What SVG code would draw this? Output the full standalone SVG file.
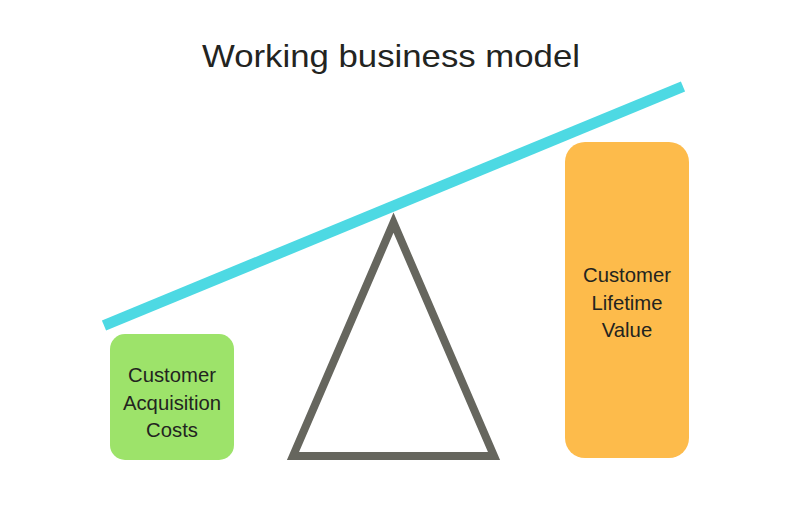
<svg xmlns="http://www.w3.org/2000/svg" width="791" height="509" viewBox="0 0 791 509">
<style>
.t{font-family:"Liberation Sans",Arial,sans-serif;fill:#23241f;text-anchor:middle}
.lbl{font-size:20.3px}
</style>
<rect width="791" height="509" fill="#ffffff"/>
<text class="t" x="391" y="67" font-size="32" textLength="378" lengthAdjust="spacingAndGlyphs">Working business model</text>
<g id="connectors">
<line x1="104" y1="325.5" x2="683" y2="86.5" stroke="#4dd9e3" stroke-width="11"/>
</g>
<g id="fulcrum">
<polygon points="393.5,222.7 293,456 494,456" fill="none" stroke="#66665e" stroke-width="8" stroke-linejoin="miter"/>
</g>
<g id="cac">
<rect x="110" y="334" width="124" height="126" rx="15" fill="#9de36a"/>
<text class="t lbl" x="172" y="382">Customer</text>
<text class="t lbl" x="172" y="410">Acquisition</text>
<text class="t lbl" x="172" y="437">Costs</text>
</g>
<g id="clv">
<rect x="565" y="142" width="124" height="316" rx="20" fill="#fdbb4b"/>
<text class="t lbl" x="627" y="282">Customer</text>
<text class="t lbl" x="627" y="310">Lifetime</text>
<text class="t lbl" x="627" y="337">Value</text>
</g>
</svg>
